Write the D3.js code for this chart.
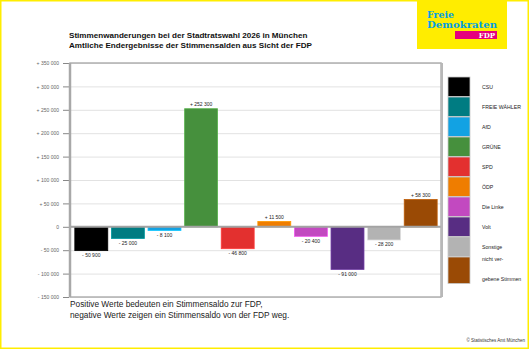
<!DOCTYPE html>
<html lang="de">
<head>
    <meta charset="utf-8">
    <title>Stimmenwanderungen FDP</title>
    <style>
        body { margin: 0; background: #fff; }
        svg { display: block; font-family: "Liberation Sans", Arial, sans-serif; }
    </style>
    <script src="https://d3js.org/d3.v7.min.js"></script>
</head>
<body>
    <script>
        // data
        const parties = ["CSU", "FREIE WÄHLER", "AfD", "GRÜNE", "SPD", "ÖDP", "Die Linke", "Volt", "Sonstige", "nicht vergebene Stimmen"];
        const saldo   = [-50900, -25000, -8100, 252300, -46800, 11500, -20400, -91000, -28200, 58300];
        const colors  = ["#000000", "#007c82", "#12a2e3", "#46903d", "#e3302f", "#ef7d00", "#c249c0", "#582d83", "#b3b3b3", "#9a4a05"];
        const legendLines = [["CSU"], ["FREIE WÄHLER"], ["AfD"], ["GRÜNE"], ["SPD"], ["ÖDP"], ["Die Linke"], ["Volt"], ["Sonstige"], ["nicht ver-", "gebene Stimmen"]];
        const yTicks  = [-150000, -100000, -50000, 0, 50000, 100000, 150000, 200000, 250000, 300000, 350000];

        const W = 530, H = 350;
        const plot = { left: 70, right: 441, top: 63, bottom: 297 };

        const svg = d3.select("body").append("svg")
            .attr("width", W)
            .attr("height", H);

        svg.append("rect").attr("width", W).attr("height", H).attr("fill", "#fff");

        // number format with spaces, e.g. "+ 252 300"
        const num = v => d3.format(",")(Math.abs(v)).replace(/,/g, " ");
        const signed = v => v > 0 ? "+ " + num(v) : (v < 0 ? "- " + num(v) : "0");

        const x = d3.scaleBand()
            .domain(parties)
            .range([73, 439])
            .paddingInner(0.1)
            .paddingOuter(0.05);

        const y = d3.scaleLinear()
            .domain([-150000, 350000])
            .range([plot.bottom, plot.top]);

        // grid
        svg.append("g")
            .attr("transform", `translate(${plot.left},0)`)
            .call(d3.axisLeft(y).tickValues(yTicks).tickSize(-(plot.right - plot.left)).tickFormat(""))
            .call(g => g.select(".domain").remove())
            .call(g => g.selectAll("line").attr("stroke", "#e2e2e2").attr("stroke-width", 1));

        // left axis ticks + labels
        svg.append("g")
            .attr("transform", `translate(${plot.left - 1},0)`)
            .call(d3.axisLeft(y).tickValues(yTicks).tickSize(6).tickPadding(4).tickFormat(signed))
            .call(g => g.select(".domain").remove())
            .call(g => g.selectAll("line").attr("stroke", "#888"))
            .call(g => g.selectAll("text").attr("fill", "#666").attr("font-size", 5));

        // bars
        svg.append("g").selectAll("rect")
            .data(saldo)
            .join("rect")
            .attr("x", (d, i) => x(parties[i]))
            .attr("width", x.bandwidth())
            .attr("y", d => y(Math.max(0, d)))
            .attr("height", d => Math.abs(y(d) - y(0)))
            .attr("fill", (d, i) => colors[i])
            .attr("stroke", (d, i) => d3.color(colors[i]).brighter(0.6))
            .attr("stroke-width", 0.8);

        // value labels
        svg.append("g").selectAll("text")
            .data(saldo)
            .join("text")
            .attr("x", (d, i) => x(parties[i]) + x.bandwidth() / 2)
            .attr("y", d => d > 0 ? y(d) - 2.5 : y(d) + 6.5)
            .attr("text-anchor", "middle")
            .attr("font-size", 5)
            .attr("fill", "#222")
            .text(signed);

        // zero line
        svg.append("line")
            .attr("x1", plot.left).attr("x2", plot.right)
            .attr("y1", y(0)).attr("y2", y(0))
            .attr("stroke", "#a3a3a3").attr("stroke-width", 2);

        // frame
        svg.append("rect")
            .attr("x", plot.left).attr("y", plot.top)
            .attr("width", plot.right - plot.left).attr("height", plot.bottom - plot.top)
            .attr("fill", "none").attr("stroke", "#b0b0b0").attr("stroke-width", 1.5);
        svg.append("line")
            .attr("x1", plot.left).attr("x2", plot.left)
            .attr("y1", plot.top).attr("y2", plot.bottom)
            .attr("stroke", "#a8a8a8").attr("stroke-width", 2.5);
        svg.append("line")
            .attr("x1", plot.right + 1).attr("x2", plot.right + 1)
            .attr("y1", plot.top).attr("y2", plot.bottom)
            .attr("stroke", "#b8b8b8").attr("stroke-width", 2);

        // legend
        const rowH = legendLines.map(l => l.length > 1 ? 27 : 20);
        const rowY = rowH.map((h, i) => 77 + d3.sum(rowH.slice(0, i)));
        const leg = svg.append("g").selectAll("g")
            .data(parties)
            .join("g")
            .attr("transform", (d, i) => `translate(448,${rowY[i]})`);
        leg.append("rect")
            .attr("width", 22)
            .attr("height", (d, i) => rowH[i] - 0.5)
            .attr("fill", (d, i) => colors[i])
            .attr("stroke", "#c8c8c8").attr("stroke-width", 0.8);
        leg.each(function(d, i) {
            const lines = legendLines[i];
            const g = d3.select(this);
            if (lines.length === 1) {
                g.append("text").attr("x", 34).attr("y", rowH[i] / 2 + 2)
                    .attr("font-size", 5.2).attr("fill", "#222").text(lines[0]);
            } else {
                g.append("text").attr("x", 34).attr("y", 4)
                    .attr("font-size", 5.2).attr("fill", "#222").text(lines[0]);
                g.append("text").attr("x", 34).attr("y", 24)
                    .attr("font-size", 5.2).attr("fill", "#222").text(lines[1]);
            }
        });

        // title
        svg.append("text").attr("x", 69).attr("y", 38)
            .attr("font-size", 8.1).attr("font-weight", "bold").attr("fill", "#111")
            .text("Stimmenwanderungen bei der Stadtratswahl 2026 in München");
        svg.append("text").attr("x", 69).attr("y", 47.5)
            .attr("font-size", 8.1).attr("font-weight", "bold").attr("fill", "#111")
            .text("Amtliche Endergebnisse der Stimmensalden aus Sicht der FDP");

        // note
        svg.append("text").attr("x", 70).attr("y", 307)
            .attr("font-size", 8.3).attr("fill", "#222")
            .text("Positive Werte bedeuten ein Stimmensaldo zur FDP,");
        svg.append("text").attr("x", 70).attr("y", 318)
            .attr("font-size", 8.3).attr("fill", "#222")
            .text("negative Werte zeigen ein Stimmensaldo von der FDP weg.");

        svg.append("text").attr("x", 525).attr("y", 342)
            .attr("text-anchor", "end").attr("font-size", 4.5).attr("fill", "#333")
            .text("© Statistisches Amt München");

        // logo
        const logo = svg.append("g");
        logo.append("rect").attr("x", 417).attr("y", 0).attr("width", 90).attr("height", 49).attr("fill", "#ffed00");
        logo.append("text").attr("x", 427).attr("y", 17.5)
            .attr("font-family", "DejaVu Serif").attr("font-weight", "bold").attr("font-size", 8.6)
            .attr("fill", "#009ee3").attr("textLength", 27).attr("lengthAdjust", "spacingAndGlyphs")
            .text("Freie");
        logo.append("text").attr("x", 427).attr("y", 27.5)
            .attr("font-family", "DejaVu Serif").attr("font-weight", "bold").attr("font-size", 8.6)
            .attr("fill", "#009ee3").attr("textLength", 70).attr("lengthAdjust", "spacingAndGlyphs")
            .text("Demokraten");
        logo.append("rect").attr("x", 455).attr("y", 31).attr("width", 42).attr("height", 8).attr("fill", "#e5007d");
        logo.append("text").attr("x", 495).attr("y", 38)
            .attr("text-anchor", "end")
            .attr("font-family", "DejaVu Serif").attr("font-weight", "bold").attr("font-size", 7)
            .attr("fill", "#fff").text("FDP");

        // yellow frame
        svg.append("rect").attr("x", 0.75).attr("y", 0.75).attr("width", W - 2.5).attr("height", H - 2.5)
            .attr("fill", "none").attr("stroke", "#ffed00").attr("stroke-width", 1.5);
    </script>
</body>
</html>
